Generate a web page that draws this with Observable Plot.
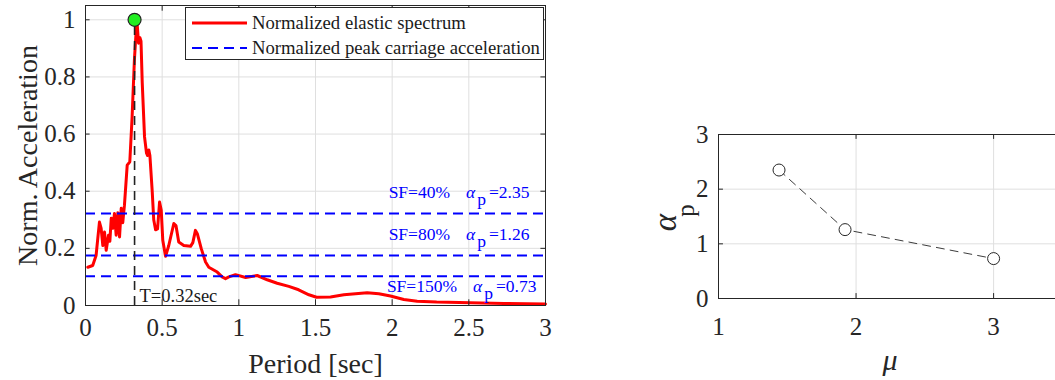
<!DOCTYPE html>
<html><head><meta charset="utf-8">
<script src="https://cdn.jsdelivr.net/npm/d3@7"></script>
<script src="https://cdn.jsdelivr.net/npm/@observablehq/plot@0.6"></script>
<style>
body{margin:0;background:#fff;}
#wrap{position:relative;width:1055px;height:380px;overflow:hidden;font-family:"Liberation Serif","Times New Roman",serif;}
#left{position:absolute;left:0;top:0;}
#right{position:absolute;left:560px;top:0;}
#legend{position:absolute;left:185px;top:7px;}
</style></head><body>
<div id="wrap"><div id="left"></div><div id="right"></div><div id="legend"></div></div>
<script>
// ---- data ----
const periods = [0.015,0.047,0.069,0.08,0.091,0.102,0.113,0.124,0.135,0.15,0.159,0.168,0.178,0.189,0.2,0.211,0.222,0.233,0.243,0.254,0.272,0.289,0.304,0.319,0.332,0.337,0.346,0.355,0.362,0.37,0.385,0.398,0.405,0.413,0.42,0.435,0.445,0.457,0.47,0.483,0.494,0.504,0.522,0.543,0.576,0.59,0.608,0.641,0.685,0.7,0.717,0.73,0.755,0.783,0.804,0.859,0.891,0.913,0.935,0.978,1.044,1.12,1.185,1.25,1.326,1.39,1.457,1.507,1.598,1.685,1.761,1.837,1.913,1.989,2.076,2.163,2.29,2.51,2.73,3.0];
const accel = [0.134,0.14,0.175,0.234,0.292,0.27,0.21,0.257,0.193,0.246,0.225,0.305,0.27,0.322,0.246,0.325,0.24,0.34,0.29,0.351,0.491,0.503,0.66,0.86,0.975,0.985,0.918,0.937,0.925,0.78,0.59,0.533,0.525,0.544,0.525,0.40,0.30,0.265,0.268,0.362,0.333,0.228,0.172,0.21,0.287,0.28,0.222,0.21,0.207,0.22,0.263,0.25,0.199,0.152,0.134,0.117,0.1,0.094,0.1,0.108,0.098,0.105,0.09,0.078,0.067,0.055,0.0375,0.029,0.03,0.0375,0.041,0.0445,0.041,0.033,0.021,0.015,0.012,0.01,0.007,0.005];
const peakPeriod = 0.32;
const peakAccel = 1;
const sfLabels = ["SF=40%","SF=80%","SF=150%"];
const sfLevels = [0.322,0.175,0.102];
const alphaP = [2.35,1.26,0.73];
const mu = [1.44,1.92,3.0];
const xTicksL = [0,0.5,1,1.5,2,2.5,3];
const yTicksL = [0,0.2,0.4,0.6,0.8,1];
const xTicksR = [1,2,3];
const yTicksR = [0,1,2,3];
const legendLabels = ["Normalized elastic spectrum","Normalized peak carriage acceleration"];
const xDomainL = [0,3], yDomainL = [0,1.05];
const xDomainR = [1,3.45], yDomainR = [0,3];

const spectrum = periods.map((T,i)=>({T, A: accel[i]}));
const pts = mu.map((m,i)=>({mu:m, a:alphaP[i]}));
const ink = "#262626", grid = "#dfdfdf";
const fmt = d => String(d);

// ---- left chart ----
const left = Plot.plot({
  width: 560, height: 380,
  marginLeft: 85, marginRight: 15, marginTop: 5, marginBottom: 75,
  x: {domain: xDomainL}, y: {domain: yDomainL},
  style: {fontFamily: '"Liberation Serif", serif', background: "transparent"},
  marks: [
    Plot.gridX(xTicksL, {stroke: grid, strokeOpacity: 1}),
    Plot.gridY(yTicksL, {stroke: grid, strokeOpacity: 1}),
    Plot.line(spectrum, {x: "T", y: "A", stroke: "#ff0000", strokeWidth: 3}),
    Plot.ruleY(sfLevels, {stroke: "#0000ff", strokeWidth: 2, strokeDasharray: "10,6"}),
    Plot.ruleX([peakPeriod], {y1: 0, y2: peakAccel, stroke: "#222", strokeWidth: 1.6, strokeDasharray: "9,6"}),
    Plot.dot([{T: peakPeriod, A: peakAccel}], {x: "T", y: "A", r: 6.5, fill: "#22ee22", stroke: "#222", strokeWidth: 1.2}),
    ...sfLabels.map((s,i) => Plot.text([s + "|" + alphaP[i].toFixed(2)], {
      x: xDomainL[1], y: sfLevels[i], text: d => d, textAnchor: "end", lineAnchor: "middle",
      dx: i === 2 ? -9 : -16, dy: i === 2 ? 10 : -21, fill: "#0000ff", fontSize: 17.5})),
    Plot.text(["T=" + peakPeriod + "sec"], {x: peakPeriod, y: 0, text: d => d, textAnchor: "start", lineAnchor: "middle", dx: 5, dy: -9, fontSize: 18.5, fill: "#1a1a1a"}),
    Plot.ruleX(xTicksL, {y1: yDomainL[0], y2: 0.02, stroke: ink}),
    Plot.ruleX(xTicksL, {y1: yDomainL[1], y2: 1.03, stroke: ink}),
    Plot.ruleY(yTicksL, {x1: xDomainL[0], x2: 0.03, stroke: ink}),
    Plot.ruleY(yTicksL, {x1: xDomainL[1], x2: 2.97, stroke: ink}),
    Plot.frame({stroke: ink}),
    Plot.axisX(xTicksL, {tickSize: 0, tickPadding: 13, tickFormat: fmt, fontSize: 25, label: null, color: ink}),
    Plot.axisY(yTicksL, {tickSize: 0, tickPadding: 10, tickFormat: fmt, fontSize: 25, label: null, color: ink}),
    Plot.text(["Period [sec]"], {frameAnchor: "bottom", textAnchor: "middle", lineAnchor: "middle", dy: 59, text: d => d, fontSize: 28, fill: ink}),
    Plot.text(["Norm. Acceleration"], {frameAnchor: "left", textAnchor: "middle", lineAnchor: "middle", rotate: -90, dx: -57, text: d => d, fontSize: 28, fill: ink})
  ]
});
// rich text for SF labels (alpha with subscript p)
left.querySelectorAll("text").forEach(t => {
  const s = t.textContent;
  if (s.includes("|")) {
    const [lab, val] = s.split("|");
    t.textContent = "";
    const ns = "http://www.w3.org/2000/svg";
    const add = (txt, attrs) => { const e = document.createElementNS(ns, "tspan"); e.textContent = txt; for (const k in attrs) e.setAttribute(k, attrs[k]); t.appendChild(e); };
    add(lab, {});
    add("α", {dx: 16, "font-style": "italic"});
    add("p", {dx: 2, dy: 7});
    add("=" + val, {dx: 3, dy: -7});
  }
});
document.getElementById("left").appendChild(left);

// ---- right chart ----
const right = Plot.plot({
  width: 495, height: 380,
  marginLeft: 158, marginRight: 0, marginTop: 134, marginBottom: 82,
  x: {domain: xDomainR}, y: {domain: yDomainR},
  style: {fontFamily: '"Liberation Serif", serif', background: "transparent"},
  marks: [
    Plot.gridX(xTicksR.slice(1), {stroke: grid, strokeOpacity: 1}),
    Plot.gridY(yTicksR.slice(1, -1), {stroke: grid, strokeOpacity: 1}),
    Plot.line(pts, {x: "mu", y: "a", stroke: ink, strokeWidth: 0.9, strokeDasharray: "8,6"}),
    Plot.dot(pts, {x: "mu", y: "a", r: 6, stroke: ink, fill: "white", strokeWidth: 1}),
    Plot.ruleX([xDomainR[0]], {stroke: ink}),
    Plot.ruleY(yDomainR, {stroke: ink}),
    Plot.ruleX(xTicksR, {y1: yDomainR[0], y2: 0.09, stroke: ink}),
    Plot.ruleX(xTicksR, {y1: yDomainR[1], y2: 2.91, stroke: ink}),
    Plot.ruleY(yTicksR, {x1: xDomainR[0], x2: 1.036, stroke: ink}),
    Plot.axisX(xTicksR, {tickSize: 0, tickPadding: 19, tickFormat: fmt, fontSize: 25, label: null, color: ink}),
    Plot.axisY(yTicksR, {tickSize: 0, tickPadding: 10, tickFormat: fmt, fontSize: 25, label: null, color: ink}),
    Plot.text(["μ"], {frameAnchor: "bottom", textAnchor: "middle", lineAnchor: "middle", dx: 3, dy: 62, text: d => d, fontSize: 30, fontStyle: "italic", fill: ink}),
    Plot.text(["α"], {frameAnchor: "left", textAnchor: "middle", lineAnchor: "middle", rotate: -90, dx: -53, dy: 6, text: d => d, fontSize: 33, fontStyle: "italic", fill: ink}),
    Plot.text(["p"], {frameAnchor: "left", textAnchor: "middle", lineAnchor: "middle", rotate: -90, dx: -33, dy: -6, text: d => d, fontSize: 25, fill: ink})
  ]
});
document.getElementById("right").appendChild(right);

// ---- legend ----
const lg = d3.select("#legend").append("svg").attr("width", 360).attr("height", 55)
  .style("font-family", '"Liberation Serif", serif');
lg.append("rect").attr("x", 0.5).attr("y", 0.5).attr("width", 358).attr("height", 52).attr("fill", "white").attr("stroke", ink);
const lgStyles = [{stroke: "#ff0000", w: 3, dash: null}, {stroke: "#0000ff", w: 2, dash: "10,6"}];
legendLabels.forEach((lab, i) => {
  const yy = 16 + i * 25;
  const l = lg.append("line").attr("x1", 7).attr("x2", 62).attr("y1", yy).attr("y2", yy)
    .attr("stroke", lgStyles[i].stroke).attr("stroke-width", lgStyles[i].w);
  if (lgStyles[i].dash) l.attr("stroke-dasharray", lgStyles[i].dash);
  lg.append("text").attr("x", 67).attr("y", yy + 6).attr("font-size", 18.7).attr("fill", "#1a1a1a").text(lab);
});
</script>
</body></html>
